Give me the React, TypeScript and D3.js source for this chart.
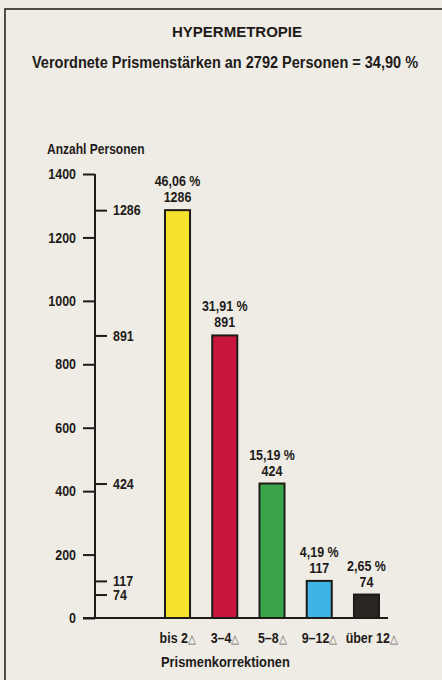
import { useEffect, useRef } from 'react';
import * as d3 from 'd3';

const categories = ['bis 2', '3–4', '5–8', '9–12', 'über 12'];
const counts = [1286, 891, 424, 117, 74];
const percents = ['46,06 %', '31,91 %', '15,19 %', '4,19 %', '2,65 %'];
const barColors = ['#f4e22c', '#c9163c', '#3aa548', '#3fb3e4', '#2b2522'];
const yTicks = [0, 200, 400, 600, 800, 1000, 1200, 1400];

const FONT = '"Liberation Sans", Arial, sans-serif';
const INK = '#1e1b19';
const SX = 0.86; // squeeze to imitate the condensed typeface

const App = () => {
  const svgRef = useRef<SVGSVGElement>(null);
  const width = 442;
  const height = 680;

  useEffect(() => {
    const svg = d3.select(svgRef.current);
    svg.selectAll('*').remove();

    const put = (g, x, y, size, txt, anchor = 'start', sx = SX) =>
      g.append('text')
        .attr('transform', `translate(${x},${y}) scale(${sx},1)`)
        .attr('text-anchor', anchor)
        .style('font', `bold ${size}px ${FONT}`)
        .style('fill', INK)
        .text(txt);

    // paper + frame
    svg.append('rect').attr('width', width).attr('height', height).attr('fill', '#efece5');
    svg.append('rect')
      .attr('x', 5).attr('y', 9)
      .attr('width', width + 20).attr('height', height + 20)
      .attr('fill', 'none').attr('stroke', '#2a2624').attr('stroke-width', 1.6);

    // titles
    put(svg, 237, 37, 15, 'HYPERMETROPIE', 'middle', 1);
    put(svg, 225, 68, 17, 'Verordnete Prismenstärken an 2792 Personen = 34,90 %', 'middle', 0.855);

    const axisX = 95;
    const y = d3.scaleLinear().domain([0, 1400]).range([618, 174]);
    const x = d3.scaleBand()
      .domain(categories)
      .range([165, 379])
      .paddingInner(0.47)
      .paddingOuter(0);

    put(svg, 47, 154, 14, 'Anzahl Personen');

    // left axis: round ticks
    const left = svg.append('g')
      .attr('transform', `translate(${axisX},0)`)
      .call(d3.axisLeft(y).tickValues(yTicks).tickFormat(d3.format('d')).tickSize(12).tickSizeOuter(0));

    // right axis: bar values
    const right = svg.append('g')
      .attr('transform', `translate(${axisX},0)`)
      .call(d3.axisRight(y).tickValues(counts).tickFormat(d3.format('d')).tickSize(12).tickSizeOuter(0));
    right.select('.domain').remove();

    [left, right].forEach(g => {
      g.selectAll('.domain, .tick line').attr('stroke', INK).attr('stroke-width', 2);
      g.selectAll('text')
        .style('font', `bold 14.5px ${FONT}`)
        .style('fill', INK)
        .attr('transform', `scale(${SX},1)`);
    });
    left.selectAll('text').attr('x', -19 / SX);
    right.selectAll('text').attr('x', 18 / SX);
    left.select('.domain').attr('d', `M0,${y(1400)}V${y(0)}`);

    // bars
    svg.selectAll('.bar')
      .data(counts)
      .enter()
      .append('rect')
      .attr('class', 'bar')
      .attr('x', (d, i) => x(categories[i])!)
      .attr('width', x.bandwidth())
      .attr('y', d => y(d))
      .attr('height', d => y(0) - y(d))
      .attr('fill', (d, i) => barColors[i])
      .attr('stroke', INK)
      .attr('stroke-width', 2);

    // baseline
    svg.append('line')
      .attr('x1', axisX - 12).attr('x2', 388)
      .attr('y1', y(0)).attr('y2', y(0))
      .attr('stroke', INK).attr('stroke-width', 2);

    // value labels
    counts.forEach((d, i) => {
      const cx = x(categories[i])! + x.bandwidth() / 2;
      put(svg, cx, y(d) - 24, 14.5, percents[i], 'middle');
      put(svg, cx, y(d) - 8, 14.5, d, 'middle');
    });

    // category labels with the prism sign
    categories.forEach((c, i) => {
      const shift = i === categories.length - 1 ? 5 : 0;
      const t = put(svg, x(c)! + x.bandwidth() / 2 + shift, 643, 14.5, c, 'middle');
      t.append('tspan')
        .style('font-weight', 'normal')
        .style('font-size', '12px')
        .style('fill', '#6a6663')
        .text('△');
    });

    put(svg, 161, 667, 15, 'Prismenkorrektionen');
  }, []);

  return (
    <svg
      ref={svgRef}
      width={width}
      height={height}
      style={{ position: 'absolute', left: 0, top: 0, display: 'block' }}
    />
  );
};

export default App;
